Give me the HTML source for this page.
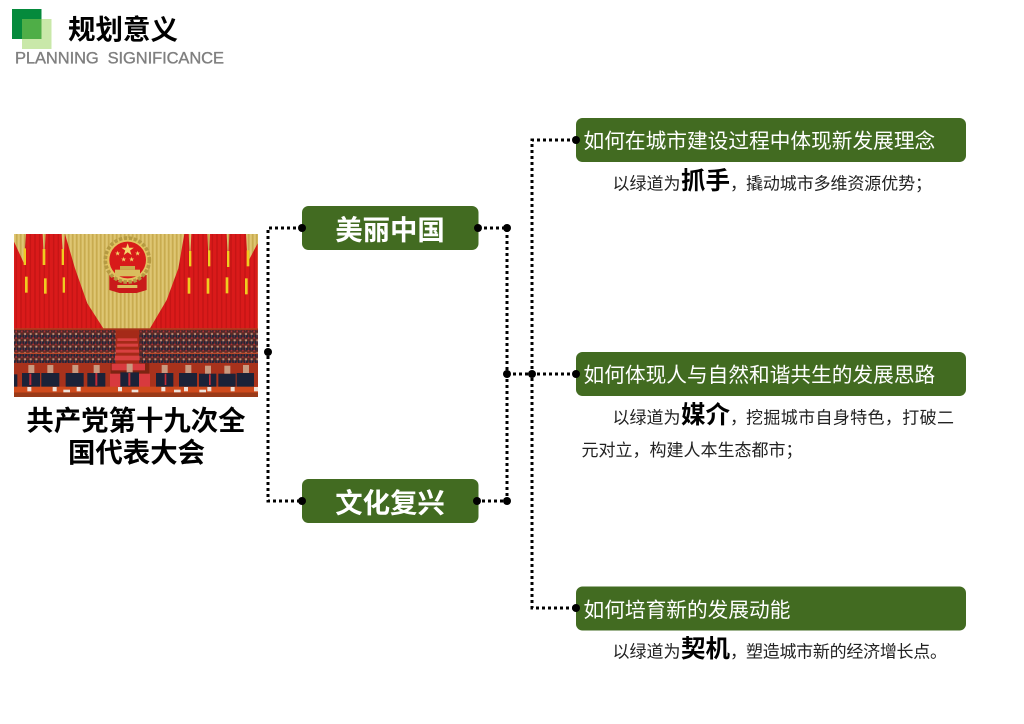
<!DOCTYPE html>
<html lang="zh"><head><meta charset="utf-8"><title>规划意义</title>
<style>
html,body{margin:0;padding:0;background:#fff}
svg{display:block}
text{font-family:"Liberation Sans","Noto Sans CJK SC",sans-serif}
.w{fill:#fff}.b{font-weight:700}
.s{font-size:17px;fill:#222}
.h{font-size:20.7px;fill:#fff}
.m{font-size:24.500px;font-weight:700;fill:#000}
.n{font-size:27.400px;font-weight:700;fill:#fff;text-anchor:middle}
.t{font-size:27.400px;font-weight:700;fill:#000;text-anchor:middle}
</style></head><body>
<svg xmlns="http://www.w3.org/2000/svg" width="1024" height="724" viewBox="0 0 1024 724">
<defs>
<pattern id="gold" width="12" height="10" patternUnits="userSpaceOnUse"><rect width="12" height="10" fill="#d6bb62"/><rect x="0" width="4" height="10" fill="#c8ab50"/><rect x="7" width="3" height="10" fill="#e3cc7c"/></pattern>
<pattern id="red" width="14" height="10" patternUnits="userSpaceOnUse"><rect width="14" height="10" fill="#da1a1a"/><rect x="5" width="4" height="10" fill="#c41414"/></pattern>
<pattern id="aud" width="17" height="19" patternUnits="userSpaceOnUse"><rect width="17" height="19" fill="#5c2a26"/><rect x="0" y="6" width="13" height="9" fill="#20263a"/><rect x="4" y="1" width="6" height="6" fill="#bf8f78"/><rect x="12" y="14" width="5" height="4" fill="#b5303a"/><rect x="5" y="8" width="2" height="6" fill="#a8323a"/></pattern>
</defs>
<rect width="1024" height="724" fill="#fff"/>

<!-- logo -->
<rect x="12" y="9" width="29.500" height="30" fill="#058a3c"/>
<rect x="22" y="19" width="29.500" height="30" fill="#c9e8a9"/>
<rect x="22" y="19" width="19.500" height="20" fill="#4fae47"/>
<text x="68" y="39" font-size="27.500" class="b" fill="#000">规划意义</text>
<text x="15" y="63.500" font-size="16.500" fill="#7f7f7f" stroke="#7f7f7f" stroke-width=".35" textLength="209" lengthAdjust="spacing" xml:space="preserve">PLANNING  SIGNIFICANCE</text>

<!-- photo -->
<svg x="14" y="234" width="244" height="163" viewBox="42 27 732 489" preserveAspectRatio="none">
<rect x="42" y="27" width="732" height="489" fill="#7d2412"/>
<rect x="42" y="27" width="732" height="285" fill="url(#gold)"/>
<polygon fill="url(#red)" points="42,50 72,115 78,27 128,27 132,112 137,27 185,27 190,112 195,27 225,130 262,235 310,310 42,310"/>
<polygon fill="url(#red)" points="450,310 500,225 535,130 553,27 566,27 570,112 574,27 622,27 626,112 630,27 680,27 684,112 688,27 738,27 743,112 773,55 773,310"/>
<g fill="#f0cc20">
<rect x="71" y="70" width="7" height="50"/><rect x="75" y="155" width="8" height="48"/>
<rect x="128" y="72" width="8" height="48"/><rect x="132" y="160" width="8" height="46"/>
<rect x="185" y="72" width="7" height="48"/><rect x="188" y="157" width="7" height="46"/>
<rect x="567" y="78" width="7" height="46"/><rect x="563" y="158" width="8" height="48"/>
<rect x="624" y="76" width="7" height="48"/><rect x="620" y="160" width="8" height="46"/>
<rect x="681" y="78" width="7" height="48"/><rect x="677" y="157" width="8" height="48"/>
<rect x="740" y="76" width="8" height="48"/><rect x="735" y="160" width="8" height="48"/>
</g>
<polygon fill="#c91a1a" points="328,150 440,150 440,195 410,204 358,204 328,195"/>
<circle cx="382" cy="105" r="66" fill="#e2c460" stroke="#b59a42" stroke-width="11" stroke-dasharray="10 5"/>
<circle cx="383" cy="105" r="55" fill="#d81a1a"/>
<text x="383" y="87" font-size="40" text-anchor="middle" fill="#f2d66a">★</text>
<text x="353" y="90" font-size="16" text-anchor="middle" fill="#f2d66a">★</text>
<text x="413" y="90" font-size="16" text-anchor="middle" fill="#f2d66a">★</text>
<text x="371" y="108" font-size="16" text-anchor="middle" fill="#f2d66a">★</text>
<text x="395" y="108" font-size="16" text-anchor="middle" fill="#f2d66a">★</text>
<rect x="345" y="134" width="75" height="20" fill="#d9bd5e"/><rect x="360" y="123" width="45" height="11" fill="#c9ac4c"/>
<rect x="352" y="180" width="60" height="9" fill="#dcc060"/>
<rect x="42" y="310" width="732" height="8" fill="#a8331a"/>
<rect x="42" y="316" width="305" height="98" fill="url(#aud)"/>
<rect x="418" y="316" width="356" height="98" fill="url(#aud)"/>
<rect x="42" y="383" width="300" height="4" fill="#b9482a"/>
<rect x="432" y="383" width="342" height="4" fill="#b9482a"/>
<rect x="347" y="316" width="71" height="100" fill="#a52a18"/>
<g fill="#d84040"><rect x="352" y="340" width="60" height="8"/><rect x="350" y="356" width="64" height="9"/><rect x="347" y="374" width="70" height="9"/><rect x="345" y="392" width="74" height="14"/></g>
<rect x="42" y="414" width="290" height="72" fill="#a8321c"/>
<rect x="448" y="414" width="326" height="72" fill="#a8321c"/>
<rect x="335" y="416" width="100" height="20" fill="#d83a3e"/>
<rect x="330" y="446" width="120" height="40" fill="#d83a3e"/>
<g fill="#1b2238">
<rect x="66" y="444" width="54" height="42"/><rect x="124" y="444" width="54" height="42"/><rect x="197" y="444" width="54" height="42"/><rect x="262" y="444" width="54" height="42"/><rect x="361" y="442" width="56" height="44"/><rect x="468" y="444" width="52" height="42"/><rect x="537" y="444" width="54" height="42"/><rect x="597" y="446" width="52" height="40"/><rect x="655" y="446" width="52" height="40"/><rect x="710" y="444" width="52" height="42"/><rect x="42" y="448" width="10" height="38"/>
</g>
<g fill="#c99a80">
<rect x="85" y="420" width="18" height="24"/><rect x="142" y="420" width="18" height="24"/><rect x="217" y="420" width="18" height="24"/><rect x="281" y="420" width="18" height="24"/><rect x="380" y="416" width="18" height="26"/><rect x="485" y="420" width="18" height="24"/><rect x="556" y="420" width="18" height="24"/><rect x="615" y="422" width="18" height="24"/><rect x="673" y="422" width="18" height="24"/><rect x="729" y="420" width="18" height="24"/>
</g>
<g fill="#c32a36"><rect x="286" y="444" width="6" height="38"/><rect x="88" y="446" width="6" height="34"/><rect x="494" y="446" width="5" height="34"/><rect x="627" y="448" width="5" height="32"/><rect x="385" y="444" width="6" height="38"/></g>
<rect x="42" y="485" width="732" height="18" fill="#cf4a1c"/>
<rect x="42" y="503" width="732" height="13" fill="#9a3a18"/>
<g fill="#eee1d8"><rect x="82" y="486" width="12" height="13"/><rect x="158" y="486" width="12" height="13"/><rect x="230" y="486" width="12" height="13"/><rect x="354" y="486" width="12" height="13"/><rect x="484" y="486" width="12" height="13"/><rect x="552" y="486" width="12" height="13"/><rect x="622" y="486" width="12" height="13"/><rect x="692" y="486" width="12" height="13"/><rect x="762" y="486" width="12" height="13"/><rect x="190" y="494" width="20" height="8"/><rect x="395" y="494" width="20" height="8"/><rect x="522" y="494" width="20" height="8"/><rect x="598" y="494" width="20" height="8"/></g>
</svg>
<text class="t" x="136" y="430">共产党第十九次全</text>
<text class="t" x="136.500" y="462">国代表大会</text>

<!-- connectors -->
<g fill="none" stroke="#000" stroke-width="3" stroke-dasharray="3 3">
<path d="M302 228H268V501H302"/>
<path d="M478 228H507V501H478"/>
<path d="M507 374H576"/>
<path d="M576 140H532V608H576"/>
</g>

<!-- boxes -->
<g fill="#426b21">
<rect x="302" y="206" width="176.500" height="44" rx="6.500"/>
<rect x="302" y="479" width="176.500" height="44" rx="6.500"/>
<rect x="576" y="118" width="390" height="44" rx="6.500"/>
<rect x="576" y="352" width="390" height="44" rx="6.500"/>
<rect x="576" y="586.500" width="390" height="44" rx="6.500"/>
</g>
<g fill="#000">
<circle cx="302" cy="228" r="4"/><circle cx="478" cy="228" r="4"/><circle cx="507" cy="228" r="4"/>
<circle cx="268" cy="352" r="4"/>
<circle cx="302" cy="501" r="4"/><circle cx="477" cy="501" r="4"/><circle cx="507" cy="501" r="4"/>
<circle cx="507" cy="374" r="4"/><circle cx="532" cy="374" r="4"/><circle cx="576" cy="374" r="4"/>
<circle cx="576" cy="140" r="4"/><circle cx="576" cy="608" r="4"/>
</g>

<text class="n" x="390" y="239.500">美丽中国</text>
<text class="n" x="390" y="512.500">文化复兴</text>
<text class="h" x="583.500" y="148">如何在城市建设过程中体现新发展理念</text>
<text class="h" x="583.500" y="382">如何体现人与自然和谐共生的发展思路</text>
<text class="h" x="583.500" y="617">如何培育新的发展动能</text>

<text class="s" x="612.500" y="189.500">以绿道为</text><text class="m" x="681" y="189">抓手</text><text class="s" x="730" y="189.500">，</text><text class="s" x="746" y="189.500" textLength="186">撬动城市多维资源优势；</text>
<text class="s" x="612.500" y="423.500">以绿道为</text><text class="m" x="681" y="423">媒介</text><text class="s" x="730" y="423.500">，</text><text class="s" x="746" y="423.500" textLength="208">挖掘城市自身特色，打破二</text>
<text class="s" x="581.500" y="456">元对立，构建人本生态都市；</text>
<text class="s" x="612.500" y="657.500">以绿道为</text><text class="m" x="681" y="657">契机</text><text class="s" x="730" y="657.500">，</text><text class="s" x="746" y="657.500" textLength="201">塑造城市新的经济增长点。</text>
</svg>
</body></html>
